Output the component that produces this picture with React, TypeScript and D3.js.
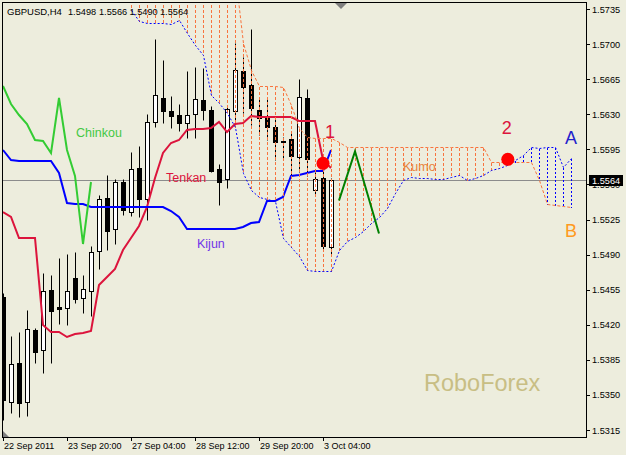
import * as d3 from "d3";
import { useMemo } from "react";

// GBPUSD H4, one value per bar, bar 0 = 22 Sep 2011
const opens = [
  1.5448, 1.5343, 1.5382, 1.5343, 1.5415, 1.5395, 1.5455, 1.5438, 1.5437, 1.5467,
  1.5447, 1.5454, 1.5494, 1.5546, 1.5516, 1.5562, 1.5532, 1.5576, 1.5545, 1.5622,
  1.5646, 1.5633, 1.5629, 1.5621, 1.563, 1.5644, 1.5634, 1.5575, 1.5565, 1.5633,
  1.5673, 1.5659, 1.5634, 1.5627, 1.5617, 1.5603, 1.5605, 1.5587, 1.5646, 1.5554,
  1.5566, 1.5498,
];
const highs = [
  1.5452, 1.5409, 1.5413, 1.5435, 1.5417, 1.5472, 1.547, 1.5487, 1.5491, 1.5493,
  1.547, 1.5499, 1.5549, 1.5569, 1.5565, 1.5565, 1.5592, 1.5598, 1.563, 1.5705,
  1.5684, 1.5648, 1.564, 1.5673, 1.5677, 1.5676, 1.5638, 1.558, 1.5637, 1.5701,
  1.5687, 1.5715, 1.5647, 1.5647, 1.5625, 1.5607, 1.5611, 1.5665, 1.5655, 1.5572,
  1.558, 1.5566,
];
const lows = [
  1.5325, 1.5332, 1.5328, 1.5329, 1.5382, 1.5372, 1.5382, 1.5421, 1.542, 1.5442,
  1.5432, 1.5429, 1.5476, 1.5495, 1.5501, 1.5529, 1.5528, 1.5527, 1.5525, 1.5617,
  1.5621, 1.5616, 1.5613, 1.5606, 1.5606, 1.5624, 1.5572, 1.5539, 1.5556, 1.5617,
  1.5631, 1.5619, 1.5609, 1.5604, 1.5584, 1.5584, 1.5569, 1.5572, 1.5568, 1.5548,
  1.5495, 1.549,
];
const closes = [
  1.5345, 1.5381, 1.5342, 1.5416, 1.5393, 1.5454, 1.5434, 1.5436, 1.5454, 1.5446,
  1.5456, 1.5493, 1.5545, 1.5514, 1.5562, 1.5534, 1.5575, 1.5545, 1.5622, 1.5649,
  1.5633, 1.5628, 1.5621, 1.5629, 1.5645, 1.5634, 1.5573, 1.5562, 1.5635, 1.5674,
  1.5657, 1.5636, 1.5626, 1.5617, 1.5602, 1.5602, 1.5588, 1.5647, 1.5585, 1.5565,
  1.5499, 1.5564,
];

// Ichimoku lines, one value per bar
const tenkan = [
  1.5532, 1.5527, 1.5507, 1.5507, 1.5507, 1.542, 1.5413, 1.5413, 1.5408, 1.5411,
  1.5412, 1.5414, 1.546, 1.5468, 1.5476, 1.5495, 1.5507, 1.5519, 1.5537, 1.5566,
  1.5591, 1.5601, 1.5604, 1.5614, 1.5615, 1.5615, 1.5616, 1.5622, 1.5612, 1.562,
  1.5621, 1.5628, 1.5627, 1.5627, 1.5627, 1.5627, 1.5627, 1.5623, 1.5623, 1.5623,
  1.5584, 1.5576,
];
const kijun = [
  1.5594, 1.5584, 1.5583, 1.5583, 1.5583, 1.5583, 1.5583, 1.5571, 1.5541, 1.554,
  1.554, 1.5537, 1.5537, 1.5537, 1.5537, 1.5537, 1.5537, 1.5537, 1.5537, 1.5537,
  1.5537, 1.5533, 1.5527, 1.5516, 1.5516, 1.5516, 1.5516, 1.5516, 1.5516, 1.5516,
  1.5518, 1.5522, 1.5523, 1.5543, 1.5543, 1.5547, 1.5568, 1.5569, 1.5571, 1.5573,
  1.5573, 1.5594,
];
const chinkou = [
  1.5658, 1.564, 1.5629, 1.562, 1.5604, 1.5603, 1.5591, 1.5646, 1.5594, 1.5568,
  1.5501, 1.5562,
];

// kumo is shifted forward, its first value sits on bar 16
const kumoFirstBar = 16;
const senkouA = [
  1.5734, 1.5723, 1.5721, 1.5721, 1.5721, 1.572, 1.5724, 1.5711, 1.5699, 1.5689,
  1.5649, 1.5641, 1.5631, 1.5617, 1.5571, 1.5554, 1.5547, 1.5545, 1.5543, 1.5507,
  1.5498, 1.5489, 1.5475, 1.5474, 1.5474, 1.5474, 1.5495, 1.5504, 1.5508, 1.5514,
  1.5522, 1.5527, 1.5536, 1.5551, 1.5564, 1.5567, 1.5566, 1.5566, 1.5565, 1.5565,
  1.5567, 1.5569, 1.5564, 1.5566, 1.5569, 1.5574, 1.5576, 1.5579, 1.5584, 1.5589,
  1.5597, 1.5596, 1.5597, 1.5597, 1.5577, 1.5586,
];
const senkouB = [
  1.577, 1.577, 1.577, 1.577, 1.577, 1.577, 1.577, 1.577, 1.577, 1.577,
  1.577, 1.577, 1.577, 1.577, 1.5701, 1.5674, 1.5658, 1.5658, 1.5658, 1.5657,
  1.5639, 1.5616, 1.5607, 1.5606, 1.5606, 1.5606, 1.5602, 1.5597, 1.5597, 1.5597,
  1.5597, 1.5597, 1.5597, 1.5597, 1.5597, 1.5597, 1.5597, 1.5597, 1.5597, 1.5597,
  1.5597, 1.5597, 1.5597, 1.5597, 1.5597, 1.5582, 1.5582, 1.5582, 1.5582, 1.5582,
  1.5582, 1.5564, 1.554, 1.5539, 1.5538, 1.5537,
];

const priceTicks = [
  1.5735, 1.57, 1.5665, 1.563, 1.5595, 1.556, 1.5525, 1.549, 1.5455, 1.542,
  1.5385, 1.535, 1.5315,
];
const timeTickBars = [0, 8, 16, 24, 32, 40];
const timeTickLabels = [
  "22 Sep 2011",
  "23 Sep 20:00",
  "27 Sep 04:00",
  "28 Sep 12:00",
  "29 Sep 20:00",
  "3 Oct 04:00",
];

const lastPrice = 1.5564;
const titleParts = ["GBPUSD,H4", "1.5498", "1.5566", "1.5490", "1.5564"];

// marks drawn by hand on the chart
const signalBars = [40, 63.1];
const signalPrices = [1.5581, 1.5585];
const signalLabels = ["1", "2"];
const zigzagBars = [42, 44, 47];
const zigzagPrices = [1.5544, 1.5593, 1.5511];

const BG = "#EDEDDD";
const ORANGE = "#F8743E";
const BLUE = "#0000FF";
const FONT = "'Liberation Sans', Arial, sans-serif";

const snap = (v: number) => Math.round(v) + 0.5;

export default function App() {
  const width = 626;
  const height = 455;
  const right = 586;
  const bottom = 437;

  // bars are 8px apart
  const xScale = useMemo(() => d3.scaleLinear().domain([0, 71]).range([3, 571]), []);
  const yScale = useMemo(
    () => d3.scaleLinear().domain([1.5315, 1.5735]).range([430, 9]),
    []
  );

  // thick lines sit on whole pixels, thin ones on half pixels
  const linePath = (values: number[], firstBar: number, thin: boolean) =>
    d3
      .line<number>()
      .x((_, i) => (thin ? snap(xScale(firstBar + i)) : Math.round(xScale(firstBar + i))))
      .y((d) => (thin ? snap(yScale(d)) : Math.round(yScale(d))))(values) ?? "";

  const candles = opens.map((o, i) => {
    const c = closes[i];
    const cx = snap(xScale(i));
    const yTop = Math.round(yScale(Math.max(o, c)));
    const yBot = Math.round(yScale(Math.min(o, c)));
    return (
      <g key={i}>
        <line x1={cx} x2={cx} y1={snap(yScale(highs[i]))} y2={snap(yScale(lows[i]))} stroke="#000" />
        <rect
          x={cx - 2}
          y={yTop + 0.5}
          width={4}
          height={Math.max(yBot - yTop, 0)}
          fill={c >= o ? "#fff" : "#000"}
          stroke="#000"
        />
      </g>
    );
  });

  // kumo hatching between the two spans
  const hatch = senkouA.map((a, i) => {
    const b = senkouB[i];
    const xx = snap(xScale(kumoFirstBar + i));
    const bUp = b > a;
    return (
      <line
        key={i}
        x1={xx}
        x2={xx}
        y1={snap(yScale(Math.max(a, b)))}
        y2={snap(yScale(Math.min(a, b)))}
        stroke={bUp ? ORANGE : BLUE}
        strokeDasharray={bUp ? "3,2" : "2,2"}
        shapeRendering="crispEdges"
      />
    );
  });

  const zigzag =
    d3
      .line<number>()
      .x((_, i) => xScale(zigzagBars[i]))
      .y((d) => yScale(d))(zigzagPrices) ?? "";

  const lastY = snap(yScale(lastPrice));
  const titleX = [7, 68, 99, 129.5, 160];

  return (
    <div style={{ position: "absolute", left: 0, top: 0 }}>
      <svg width={width} height={height} style={{ display: "block", background: BG }} fontFamily={FONT}>
        <defs>
          <clipPath id="plot">
            <rect x={3} y={3} width={right - 3} height={bottom - 3} />
          </clipPath>
        </defs>

        <g clipPath="url(#plot)">
          <line x1={3} x2={right} y1={lastY} y2={lastY} stroke="#8c8c8c" />
          {candles}
          <path d={linePath(tenkan, 0, false)} fill="none" stroke="#DC143C" strokeWidth={2} />
          <path d={linePath(kijun, 0, false)} fill="none" stroke={BLUE} strokeWidth={2} />
          {hatch}
          <path d={linePath(chinkou, 0, false)} fill="none" stroke="#33CC33" strokeWidth={2} />
          <path d={linePath(senkouA, kumoFirstBar, true)} fill="none" stroke={BLUE} strokeDasharray="2,2" />
          <path d={linePath(senkouB, kumoFirstBar, true)} fill="none" stroke={ORANGE} strokeDasharray="3,2" />

          <path d={zigzag} fill="none" stroke="#008000" strokeWidth={2} />
          {signalBars.map((b, i) => (
            <g key={i}>
              <circle cx={xScale(b)} cy={yScale(signalPrices[i])} r={6.5} fill="#FF0000" />
              <text
                x={xScale(b) + (i === 0 ? 7 : -1)}
                y={yScale(signalPrices[i]) - 25}
                fontSize={18}
                textAnchor="middle"
                fill="#DC143C"
              >
                {signalLabels[i]}
              </text>
            </g>
          ))}

          <text x={76} y={137} fontSize={12.5} fill="#44C844">Chinkou</text>
          <text x={166} y={182} fontSize={12.5} fill="#DC143C">Tenkan</text>
          <text x={197} y={248} fontSize={12.5} fill="#7035E8">Kijun</text>
          <text x={403} y={171} fontSize={12.5} fill="#E8843C">Kumo</text>
          <text x={571} y={144} fontSize={18} textAnchor="middle" fill="#2222CC">A</text>
          <text x={571} y={237} fontSize={18} textAnchor="middle" fill="#FF9A20">B</text>
          <text x={424} y={391} fontSize={23.5} fill="#C8BE84">RoboForex</text>

          <polygon points="3,431 3,437 9,437" fill="#7f7f7f" />
        </g>

        {titleParts.map((t, i) => (
          <text key={t + i} x={titleX[i]} y={15} fontSize={i === 0 ? 9.5 : 9.2} fill="#000">
            {t}
          </text>
        ))}
        <polygon points="335,3 347,3 341,9" fill="#7f7f7f" />

        <rect x={2.5} y={2.5} width={right - 2} height={bottom - 2} fill="none" stroke="#000" />

        {/* price axis */}
        {priceTicks.map((t) => (
          <g key={t}>
            <line x1={right + 1} x2={right + 4} y1={snap(yScale(t))} y2={snap(yScale(t))} stroke="#000" />
            <text x={592} y={yScale(t) + 3.5} fontSize={9.2} fill="#000">
              {t.toFixed(4)}
            </text>
          </g>
        ))}
        <rect x={589} y={175} width={34} height={11} fill="#000" />
        <text x={592} y={yScale(lastPrice) + 3.5} fontSize={9.2} fill="#fff">
          {lastPrice.toFixed(4)}
        </text>

        {/* time axis */}
        {timeTickBars.map((b, i) => (
          <g key={b}>
            <line x1={snap(xScale(b))} x2={snap(xScale(b))} y1={bottom} y2={bottom + 4} stroke="#000" />
            <text x={xScale(b) + 1} y={449} fontSize={9} fill="#000">
              {timeTickLabels[i]}
            </text>
          </g>
        ))}
      </svg>
    </div>
  );
}
